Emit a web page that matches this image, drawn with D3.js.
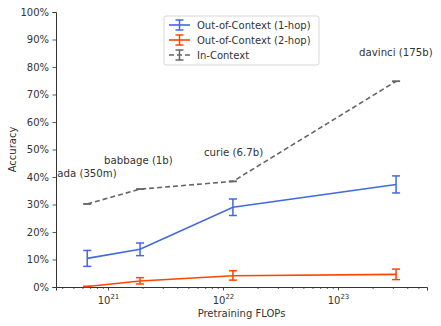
<!DOCTYPE html>
<html><head><meta charset="utf-8">
<script src="https://cdn.jsdelivr.net/npm/d3@7"></script>
<style>body{margin:0;background:#fff}text{font-family:"DejaVu Sans",sans-serif;fill:#333}</style>
</head><body><svg id="c" width="441" height="326"></svg>
<script>
const models = ["ada (350m)", "babbage (1b)", "curie (6.7b)", "davinci (175b)"];
const flops = [6.6e20, 1.9e21, 1.22e22, 3.2e23];
const inContext = [30.2, 35.6, 38.4, 74.8];
const hop1 = [10.4, 13.7, 29.0, 37.3];
const hop1Lo = [7.5, 11.4, 26.0, 34.2];
const hop1Hi = [13.3, 16.0, 32.0, 40.4];
const hop2 = [0.2, 2.2, 4.1, 4.6];
const hop2Lo = [0.2, 1.1, 2.5, 2.7];
const hop2Hi = [0.2, 3.4, 5.9, 6.5];
const yTicks = [0,10,20,30,40,50,60,70,80,90,100];
const xTicks = [21,22,23];
const seriesNames = ["Out-of-Context (1-hop)", "Out-of-Context (2-hop)", "In-Context"];

const svg = d3.select("#c");
const L=56, R=427, T=12, B=287;
const x = d3.scaleLog().domain([Math.pow(10,20.548), Math.pow(10,23.774)]).range([L,R]);
const y = d3.scaleLinear().domain([0,100]).range([B,T]);

// axes
const ax = svg.append("g");
const yAxis = d3.axisLeft(y).tickValues(yTicks).tickFormat(d=>d+"%").tickSize(3.5).tickPadding(3.5);
const gy = ax.append("g").attr("transform",`translate(${L},0)`).call(yAxis);
const minor = [];
for (let e=20;e<=23;e++) for (let k=1;k<10;k++){const v=k*Math.pow(10,e); if(v>=x.domain()[0]&&v<=x.domain()[1]) minor.push(v);}
const gxm = ax.append("g").attr("transform",`translate(0,${B})`).call(d3.axisBottom(x).tickValues(minor).tickSize(2).tickFormat(""));
const gx = ax.append("g").attr("transform",`translate(0,${B})`).call(d3.axisBottom(x).tickValues(xTicks.map(e=>Math.pow(10,e))).tickSize(3.5).tickPadding(3.5).tickFormat(""));
[gy,gx,gxm].forEach(g=>{g.selectAll("path.domain").attr("stroke","#333").attr("stroke-width",1);g.selectAll(".tick line").attr("stroke","#333").attr("stroke-width",0.8);});
gxm.select("path.domain").remove();
gy.selectAll(".tick text").attr("font-size",10).attr("fill","#333").style("font-family","DejaVu Sans");
gx.selectAll(".tick").each(function(d,i){
  const t=d3.select(this).append("text").attr("y",17).attr("text-anchor","middle").attr("font-size",10).attr("fill","#333");
  t.append("tspan").text("10");
  t.append("tspan").attr("dy",-5).attr("font-size",7).text(xTicks[i]);
});
svg.append("text").attr("x",(L+R)/2).attr("y",317).attr("text-anchor","middle").attr("font-size",10).text("Pretraining FLOPs");
svg.append("text").attr("transform",`translate(16,${(T+B)/2}) rotate(-90)`).attr("text-anchor","middle").attr("font-size",10).text("Accuracy");

const line = d3.line().x(d=>x(d[0])).y(d=>y(d[1]));
function series(vals, lo, hi, color, dash){
  const g = svg.append("g");
  g.append("path").datum(flops.map((f,i)=>[f,vals[i]])).attr("d",line).attr("fill","none").attr("stroke",color).attr("stroke-width",1.6).attr("stroke-dasharray",dash||null);
  flops.forEach((f,i)=>{
    const cx=x(f), y1=y(lo[i]), y2=y(hi[i]);
    g.append("line").attr("x1",cx).attr("x2",cx).attr("y1",y1).attr("y2",y2).attr("stroke",color).attr("stroke-width",1.5);
    [y1,y2].forEach(yy=>g.append("line").attr("x1",cx-4).attr("x2",cx+4).attr("y1",yy).attr("y2",yy).attr("stroke",color).attr("stroke-width",1.5));
  });
}
series(inContext, inContext, inContext, "#666666", "5,3");
series(hop2, hop2Lo, hop2Hi, "#ff4500");
series(hop1, hop1Lo, hop1Hi, "#4169e1");

// model labels
const labelOffsets = [[-30,-27],[-36,-25.5],[-29,-25],[-37,-25]];
models.forEach((m,i)=>{
  svg.append("text").attr("x",x(flops[i])+labelOffsets[i][0]).attr("y",y(inContext[i])+labelOffsets[i][1]).attr("font-size",10.2).text(m);
});

// legend
const lg = svg.append("g").attr("transform","translate(164,16)");
lg.append("rect").attr("width",155).attr("height",49).attr("rx",2).attr("fill","#fff").attr("fill-opacity",0.8).attr("stroke","#ccc").attr("stroke-width",0.8);
const lcol=["#4169e1","#ff4500","#666666"];
seriesNames.forEach((n,i)=>{
  const yy=9+i*15;
  const g=lg.append("g").attr("transform",`translate(0,${yy})`);
  g.append("line").attr("x1",5).attr("x2",26).attr("stroke",lcol[i]).attr("stroke-width",1.6).attr("stroke-dasharray",i==2?"5,3":null);
  g.append("line").attr("x1",15.5).attr("x2",15.5).attr("y1",-5).attr("y2",5).attr("stroke",lcol[i]).attr("stroke-width",1.5);
  [-5,5].forEach(d=>g.append("line").attr("x1",11.5).attr("x2",19.5).attr("y1",d).attr("y2",d).attr("stroke",lcol[i]).attr("stroke-width",1.5));
  g.append("text").attr("x",33).attr("y",3.5).attr("font-size",10).text(n);
});
</script></body></html>
